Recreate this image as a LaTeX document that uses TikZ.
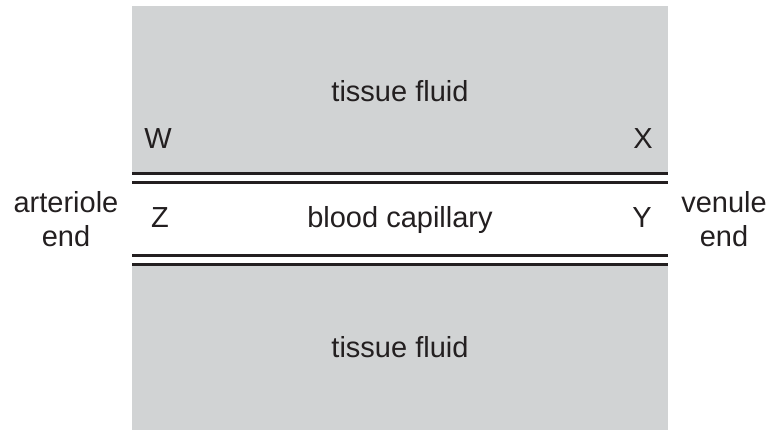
\documentclass[tikz,border=0pt]{standalone}
\usepackage{fontspec}
\setmainfont{Liberation Sans}
\usepackage{tikz}
\usetikzlibrary{positioning}
\definecolor{fluidgray}{RGB}{209,211,212}
\definecolor{inkdark}{RGB}{35,31,32}
\tikzset{
  lbl/.style={font=\fontsize{29}{34}\selectfont, text=inkdark, inner sep=0pt, anchor=base},
  endlbl/.style={lbl, align=center},
  wall/.style={draw=inkdark, line width=2.7pt},
}

\begin{document}
\begin{tikzpicture}[x=1pt,y=1pt]
\useasboundingbox (0,0) rectangle (771,430);
\fill[fluidgray] (132,0) rectangle (668,424);
\fill[white] (132,165) rectangle (668,257);
\draw[wall] (132,256.5) -- (668,256.5);
\draw[wall] (132,247.7) -- (668,247.7);
\draw[wall] (132,174.5) -- (668,174.5);
\draw[wall] (132,165.8) -- (668,165.8);
\node[lbl] (fluidtop) at (400,328) {tissue fluid};
\node[lbl] (fluidbot) at (400,72) {tissue fluid};
\node[lbl] (capillary) at (400,202) {blood capillary};
\node[lbl] (ptW) at (158,281) {W};
\node[lbl] (ptX) at (643,281) {X};
\node[lbl] (ptZ) at (160,202) {Z};
\node[lbl] (ptY) at (642,202) {Y};
\node[endlbl] (artend) at (66,183) {arteriole\\end};
\node[endlbl] (venend) at (724,183) {venule\\end};
\end{tikzpicture}
\end{document}
